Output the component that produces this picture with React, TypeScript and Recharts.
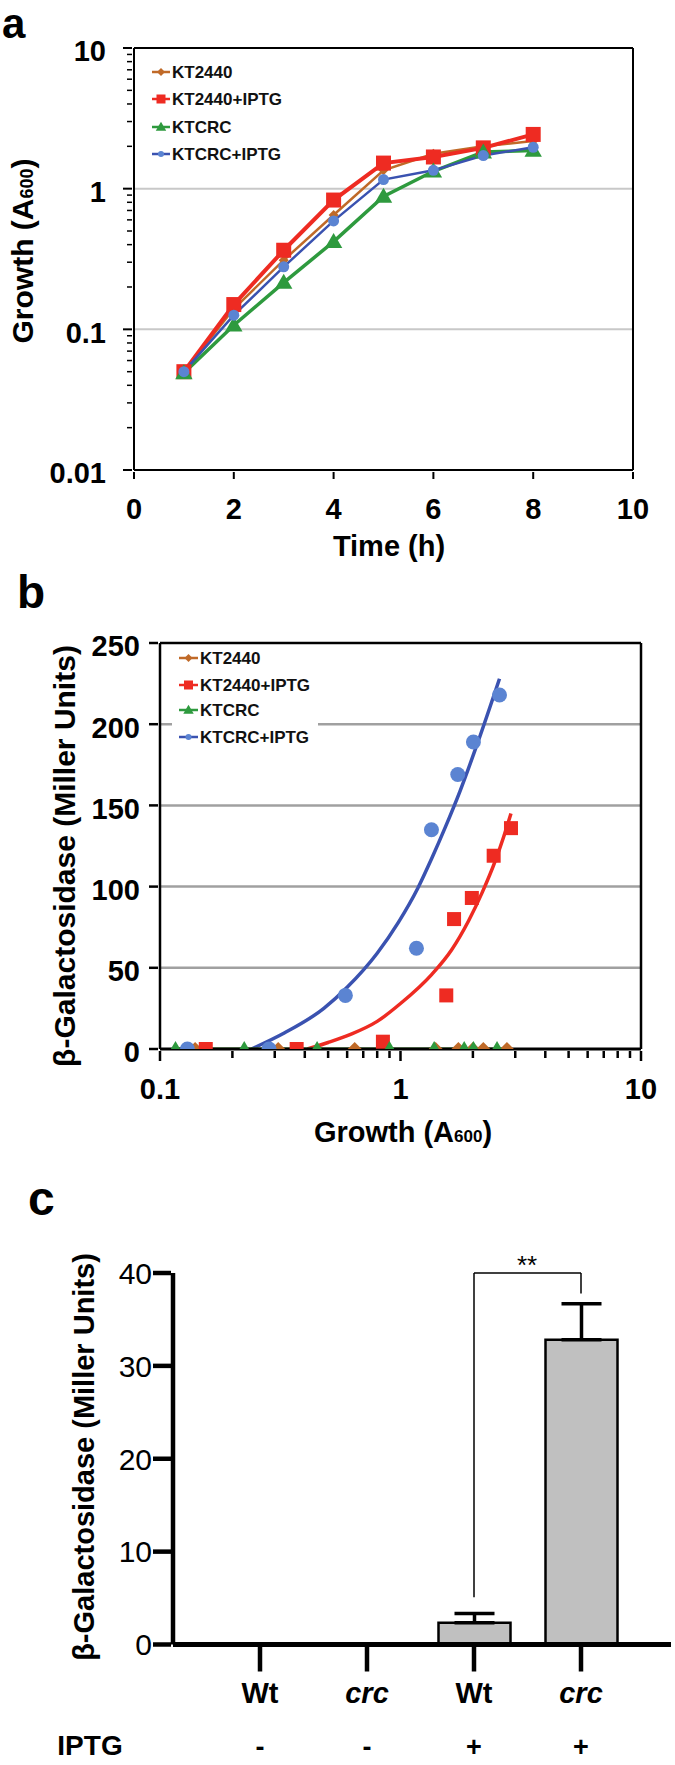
import React from 'react';
import {
  ComposedChart,
  BarChart,
  Line,
  Scatter,
  Bar,
  XAxis,
  YAxis,
  ReferenceLine,
  ErrorBar,
} from 'recharts';

const FONT = "'Liberation Sans', Arial, Helvetica, sans-serif";
const W = 675;
const H = 1765;

// ---------- colours ----------
const C_BROWN = '#C06A28';
const C_RED = '#EE2B22';
const C_GREEN = '#2E9A3E';
const C_BLUE_LINE = '#3A52B0';
const C_BLUE_DOT = '#5B84D2';

// ---------- panel a : growth curves ----------
const TIME_H = [1, 2, 3, 4, 5, 6, 7, 8];
const A_KT2440 = [0.05, 0.14, 0.31, 0.65, 1.35, 1.77, 2.0, 2.18];
const A_KT2440_IPTG = [0.05, 0.15, 0.365, 0.83, 1.52, 1.68, 1.95, 2.43];
const A_KTCRC = [0.049, 0.107, 0.215, 0.42, 0.88, 1.33, 1.82, 1.87];
const A_KTCRC_IPTG = [0.05, 0.126, 0.278, 0.59, 1.16, 1.35, 1.72, 1.97];
const A_X_TICKS = [0, 2, 4, 6, 8, 10];
const A_Y_MAJOR = [0.01, 0.1, 1, 10];
const A_Y_MAJOR_LABELS = ['0.01', '0.1', '1', '10'];
const A_Y_MINOR = [
  0.02, 0.03, 0.04, 0.05, 0.06, 0.07, 0.08, 0.09,
  0.2, 0.3, 0.4, 0.5, 0.6, 0.7, 0.8, 0.9,
  2, 3, 4, 5, 6, 7, 8, 9,
];
const A_GRID = [0.1, 1];

// ---------- panel b : beta-gal vs growth ----------
const B_KT2440_X = [0.14, 0.31, 0.645, 1.4, 1.74, 2.0, 2.21, 2.77];
const B_KT2440_Y = [0, 0, 0, 0, 0, 0, 0, 0];
const B_KT2440_IPTG_X = [0.155, 0.37, 0.845, 1.55, 1.67, 1.98, 2.44, 2.88];
const B_KT2440_IPTG_Y = [0, 0, 4.5, 33, 80, 93, 119, 136];
const B_KTCRC_X = [0.116, 0.224, 0.45, 0.9, 1.38, 1.84, 2.01, 2.52];
const B_KTCRC_Y = [0, 0, 0, 0, 0, 0, 0, 0];
const B_KTCRC_IPTG_X = [0.13, 0.284, 0.59, 1.165, 1.345, 1.73, 2.01, 2.58];
const B_KTCRC_IPTG_Y = [0, 0, 33, 62, 135, 169, 189, 218];
const B_FIT_BLUE_X = [0.24, 0.33, 0.48, 0.6, 0.8, 0.98, 1.18, 1.345, 1.53, 1.77, 2.11, 2.58];
const B_FIT_BLUE_Y = [0, 10, 25, 38, 59, 78, 99, 117, 136, 159, 190, 228];
const B_FIT_RED_X = [0.41, 0.5, 0.62, 0.8, 1.0, 1.35, 1.63, 1.92, 2.18, 2.48, 2.69, 2.88];
const B_FIT_RED_Y = [0, 4, 9, 17, 28, 46, 61, 79, 96, 116, 131, 145];
const B_X_MAJOR = [0.1, 1, 10];
const B_X_MAJOR_LABELS = ['0.1', '1', '10'];
const B_X_MINOR = [0.2, 0.3, 0.4, 0.5, 0.6, 0.7, 0.8, 0.9, 2, 3, 4, 5, 6, 7, 8, 9];
const B_Y_TICKS = [0, 50, 100, 150, 200, 250];
const B_GRID = [50, 100, 150, 200];

// ---------- panel c : bar chart ----------
const C_KEYS = ['Wt-', 'crc-', 'Wt+', 'crc+'];
const C_STRAIN = ['Wt', 'crc', 'Wt', 'crc'];
const C_STRAIN_ITALIC = [false, true, false, true];
const C_IPTG = ['-', '-', '+', '+'];
const C_VALUE = [0, 0, 2.35, 32.8];
const C_ERR_UP = [0, 0, 0.98, 3.9];
const C_Y_TICKS = [0, 10, 20, 30, 40];
const C_BRACKET_TOP = 40;
const C_BRACKET_LEFT_END = 5.1;
const C_BRACKET_RIGHT_END = 37.8;

const LEGEND_NAMES = ['KT2440', 'KT2440+IPTG', 'KTCRC', 'KTCRC+IPTG'];

// ---------- data tables ----------
const aData = TIME_H.map((t, i) => ({
  t,
  kt: A_KT2440[i],
  ktI: A_KT2440_IPTG[i],
  crc: A_KTCRC[i],
  crcI: A_KTCRC_IPTG[i],
}));
const pairs = (xs: number[], ys: number[]) => xs.map((x, i) => ({ x, y: ys[i] }));
const bKt = pairs(B_KT2440_X, B_KT2440_Y);
const bKtI = pairs(B_KT2440_IPTG_X, B_KT2440_IPTG_Y);
const bCrc = pairs(B_KTCRC_X, B_KTCRC_Y);
const bCrcI = pairs(B_KTCRC_IPTG_X, B_KTCRC_IPTG_Y);
const bFitBlue = pairs(B_FIT_BLUE_X, B_FIT_BLUE_Y);
const bFitRed = pairs(B_FIT_RED_X, B_FIT_RED_Y);
const cData = C_KEYS.map((key, i) => ({
  key,
  value: C_VALUE[i],
  err: [0, C_ERR_UP[i]],
}));

// ---------- marker shapes ----------
const squareEl = (k: any, cx: number, cy: number, s: number, fill: string) => (
  <rect key={k} x={cx - s / 2} y={cy - s / 2} width={s} height={s} fill={fill} />
);
const triEl = (k: any, cx: number, cy: number, s: number, fill: string) => (
  <path
    key={k}
    d={`M${cx},${cy - s * 0.58}L${cx + s * 0.58},${cy + s * 0.42}L${cx - s * 0.58},${cy + s * 0.42}Z`}
    fill={fill}
  />
);
const diaEl = (k: any, cx: number, cy: number, s: number, fill: string) => (
  <path
    key={k}
    d={`M${cx},${cy - s / 2}L${cx + s / 2},${cy}L${cx},${cy + s / 2}L${cx - s / 2},${cy}Z`}
    fill={fill}
  />
);
const circEl = (k: any, cx: number, cy: number, s: number, fill: string) => (
  <circle key={k} cx={cx} cy={cy} r={s / 2} fill={fill} />
);

const dotFn = (maker: any, s: number, fill: string) => (p: any) => {
  if (p.cx == null || p.cy == null) return <g key={`e${p.index}`} />;
  return maker(`d${p.index}`, p.cx, p.cy, s, fill);
};
const shapeFn = (maker: any, s: number, fill: string) => (p: any) => {
  if (p.cx == null || p.cy == null) return <g />;
  return maker(undefined, p.cx, p.cy, s, fill);
};

const boldText = { fontFamily: FONT, fontWeight: 'bold' as const, fill: '#000' };

// ---------- ticks ----------
const aYTick = (p: any) => {
  const { x, y, payload } = p;
  const mi = A_Y_MAJOR.indexOf(payload.value);
  const major = mi >= 0;
  return (
    <g>
      <line x1={x - (major ? 9 : 5)} x2={x} y1={y} y2={y} stroke="#000" strokeWidth={major ? 2 : 1.5} />
      {major && (
        <text x={x - 26} y={y + 3} dy="0.36em" textAnchor="end" fontSize={29} {...boldText}>
          {A_Y_MAJOR_LABELS[mi]}
        </text>
      )}
    </g>
  );
};
const aXTick = (p: any) => {
  const { x, y, payload } = p;
  return (
    <g>
      <line x1={x} x2={x} y1={y} y2={y + 7} stroke="#000" strokeWidth={2} />
      <text x={x} y={y + 37} dy="0.36em" textAnchor="middle" fontSize={29} {...boldText}>
        {payload.value}
      </text>
    </g>
  );
};
const bXTick = (p: any) => {
  const { x, y, payload } = p;
  const mi = B_X_MAJOR.indexOf(payload.value);
  const major = mi >= 0;
  return (
    <g>
      <line x1={x} x2={x} y1={y} y2={y + (major ? 10 : 7)} stroke="#000" strokeWidth={2.5} />
      {major && (
        <text x={x} y={y + 38} dy="0.36em" textAnchor="middle" fontSize={29} {...boldText}>
          {B_X_MAJOR_LABELS[mi]}
        </text>
      )}
    </g>
  );
};
const bYTick = (p: any) => {
  const { x, y, payload } = p;
  return (
    <g>
      <line x1={x - 9} x2={x} y1={y} y2={y} stroke="#000" strokeWidth={2.5} />
      <text x={x - 18} y={y + 3} dy="0.36em" textAnchor="end" fontSize={29} {...boldText}>
        {payload.value}
      </text>
    </g>
  );
};
const cYTick = (p: any) => {
  const { x, y, payload } = p;
  return (
    <g>
      <line x1={x - 18} x2={x} y1={y} y2={y} stroke="#000" strokeWidth={4.5} />
      <text x={x - 19} y={y} dy="0.36em" textAnchor="end" fontSize={30} fontFamily={FONT} fill="#000">
        {payload.value}
      </text>
    </g>
  );
};
const cXTick = (p: any) => {
  const { x, y, payload } = p;
  const i = C_KEYS.indexOf(payload.value);
  return (
    <g>
      <line x1={x} x2={x} y1={y} y2={y + 25} stroke="#000" strokeWidth={4.5} />
      <text
        x={x}
        y={y + 46}
        dy="0.36em"
        textAnchor="middle"
        fontSize={29}
        fontStyle={C_STRAIN_ITALIC[i] ? 'italic' : 'normal'}
        {...boldText}
      >
        {C_STRAIN[i]}
      </text>
      <text x={x} y={y + 100} dy="0.36em" textAnchor="middle" fontSize={27} {...boldText}>
        {C_IPTG[i]}
      </text>
    </g>
  );
};

// ---------- panels ----------
function PanelA() {
  return (
    <ComposedChart width={675} height={560} data={aData} margin={{ top: 48, right: 42, bottom: 30, left: 0 }}>
      {A_GRID.map((g) => (
        <ReferenceLine key={`ga${g}`} y={g} stroke="#c8c8c8" strokeWidth={2} />
      ))}
      <XAxis
        dataKey="t"
        type="number"
        domain={[0, 10]}
        ticks={A_X_TICKS}
        interval={0}
        height={60}
        tickSize={0}
        tickLine={false}
        tick={aXTick}
        axisLine={{ stroke: '#000', strokeWidth: 2 }}
        allowDataOverflow
      />
      <YAxis
        type="number"
        scale="log"
        domain={[0.01, 10]}
        ticks={[...A_Y_MAJOR, ...A_Y_MINOR]}
        interval={0}
        width={134}
        tickSize={0}
        tickLine={false}
        tick={aYTick}
        axisLine={{ stroke: '#000', strokeWidth: 2 }}
        allowDataOverflow
      />
      <ReferenceLine y={10} stroke="#000" strokeWidth={2} />
      <ReferenceLine x={10} stroke="#000" strokeWidth={2} />
      <Line dataKey="kt" stroke={C_BROWN} strokeWidth={2.5} dot={dotFn(diaEl, 10, C_BROWN)} isAnimationActive={false} />
      <Line dataKey="ktI" stroke={C_RED} strokeWidth={4} dot={dotFn(squareEl, 15, C_RED)} isAnimationActive={false} />
      <Line dataKey="crc" stroke={C_GREEN} strokeWidth={3.5} dot={dotFn(triEl, 15, C_GREEN)} isAnimationActive={false} />
      <Line dataKey="crcI" stroke={C_BLUE_LINE} strokeWidth={2.5} dot={dotFn(circEl, 11, C_BLUE_DOT)} isAnimationActive={false} />
    </ComposedChart>
  );
}

function PanelB() {
  return (
    <ComposedChart width={675} height={560} margin={{ top: 83, right: 34, bottom: 21, left: 0 }}>
      {B_GRID.map((g) => (
        <ReferenceLine key={`gb${g}`} y={g} stroke="#a0a0a0" strokeWidth={2.5} />
      ))}
      <XAxis
        dataKey="x"
        type="number"
        scale="log"
        domain={[0.1, 10]}
        ticks={[...B_X_MAJOR, ...B_X_MINOR]}
        interval={0}
        height={50}
        tickSize={0}
        tickLine={false}
        tick={bXTick}
        axisLine={{ stroke: '#000', strokeWidth: 3 }}
        allowDataOverflow
      />
      <YAxis
        dataKey="y"
        type="number"
        domain={[0, 250]}
        ticks={B_Y_TICKS}
        interval={0}
        width={160}
        tickSize={0}
        tickLine={false}
        tick={bYTick}
        axisLine={{ stroke: '#000', strokeWidth: 2.5 }}
        allowDataOverflow
      />
      <ReferenceLine y={250} stroke="#000" strokeWidth={2.5} />
      <ReferenceLine x={10} stroke="#000" strokeWidth={2.5} />
      <Line data={bFitBlue} dataKey="y" type="monotone" stroke={C_BLUE_LINE} strokeWidth={3.5} dot={false} isAnimationActive={false} />
      <Line data={bFitRed} dataKey="y" type="monotone" stroke={C_RED} strokeWidth={3.5} dot={false} isAnimationActive={false} />
      <Line data={bKt} dataKey="y" stroke={C_BROWN} strokeWidth={2.5} dot={dotFn(diaEl, 14, C_BROWN)} isAnimationActive={false} />
      <Line data={bCrc} dataKey="y" stroke={C_GREEN} strokeWidth={3} dot={false} isAnimationActive={false} />
      <Scatter data={bCrcI} dataKey="y" shape={shapeFn(circEl, 15, C_BLUE_DOT)} isAnimationActive={false} />
      <Scatter data={bKtI} dataKey="y" shape={shapeFn(squareEl, 14, C_RED)} isAnimationActive={false} />
      <Scatter data={bCrc} dataKey="y" shape={shapeFn(triEl, 14, C_GREEN)} isAnimationActive={false} />
    </ComposedChart>
  );
}

function PanelC() {
  return (
    <BarChart width={675} height={645} data={cData} margin={{ top: 153, right: 4, bottom: 0.5, left: 0 }}>
      <XAxis
        dataKey="key"
        type="category"
        height={120}
        padding={{ left: 33.5, right: 36.5 }}
        interval={0}
        tickSize={0}
        tickLine={false}
        tick={cXTick}
        axisLine={{ stroke: '#000', strokeWidth: 5 }}
      />
      <YAxis
        type="number"
        domain={[0, 40]}
        ticks={C_Y_TICKS}
        interval={0}
        width={173}
        tickSize={0}
        tickLine={false}
        tick={cYTick}
        axisLine={{ stroke: '#000', strokeWidth: 4.5 }}
        allowDataOverflow
      />
      <Bar dataKey="value" fill="#C0C0C0" stroke="#000" strokeWidth={2.5} barSize={72} isAnimationActive={false}>
        <ErrorBar dataKey="err" direction="y" width={20} stroke="#000" strokeWidth={3.5} />
      </Bar>
      <ReferenceLine
        segment={[{ x: 'Wt+', y: C_BRACKET_LEFT_END }, { x: 'Wt+', y: C_BRACKET_TOP }]}
        stroke="#000"
        strokeWidth={1.5}
        ifOverflow="visible"
      />
      <ReferenceLine
        segment={[{ x: 'Wt+', y: C_BRACKET_TOP }, { x: 'crc+', y: C_BRACKET_TOP }]}
        stroke="#000"
        strokeWidth={1.5}
        ifOverflow="visible"
      />
      <ReferenceLine
        segment={[{ x: 'crc+', y: C_BRACKET_TOP }, { x: 'crc+', y: C_BRACKET_RIGHT_END }]}
        stroke="#000"
        strokeWidth={1.5}
        ifOverflow="visible"
      />
    </BarChart>
  );
}

// ---------- legend ----------
const legendMarkers = [
  (cx: number, cy: number) => diaEl('m0', cx, cy, 8, C_BROWN),
  (cx: number, cy: number) => squareEl('m1', cx, cy, 9, C_RED),
  (cx: number, cy: number) => triEl('m2', cx, cy, 9, C_GREEN),
  (cx: number, cy: number) => circEl('m3', cx, cy, 6, C_BLUE_DOT),
];
const legendColors = [C_BROWN, C_RED, C_GREEN, C_BLUE_LINE];

function Legend({ x0, x1, xt, ys }: { x0: number; x1: number; xt: number; ys: number[] }) {
  return (
    <g>
      {LEGEND_NAMES.map((name, i) => (
        <g key={name}>
          <line x1={x0} x2={x1} y1={ys[i]} y2={ys[i]} stroke={legendColors[i]} strokeWidth={2.5} />
          {legendMarkers[i]((x0 + x1) / 2, ys[i])}
          <text x={xt} y={ys[i]} dy="0.36em" fontSize={17} {...boldText} fill="#111">
            {name}
          </text>
        </g>
      ))}
    </g>
  );
}

export default function App() {
  return (
    <div
      style={{
        position: 'absolute',
        left: 0,
        top: 0,
        width: W,
        height: H,
        background: '#fff',
        fontFamily: FONT,
        overflow: 'hidden',
      }}
    >
      <div style={{ position: 'absolute', left: 0, top: 0 }}>
        <PanelA />
      </div>
      <div style={{ position: 'absolute', left: 0, top: 560 }}>
        <PanelB />
      </div>
      <div style={{ position: 'absolute', left: 0, top: 1120 }}>
        <PanelC />
      </div>
      <svg
        width={W}
        height={H}
        style={{ position: 'absolute', left: 0, top: 0, pointerEvents: 'none' }}
      >
        {/* panel letters */}
        <text x={2} y={38} fontSize={42} {...boldText}>a</text>
        <text x={17} y={608} fontSize={46} {...boldText}>b</text>
        <text x={28} y={1215} fontSize={48} {...boldText}>c</text>

        {/* panel a titles */}
        <text x={389} y={546} dy="0.36em" textAnchor="middle" fontSize={29} {...boldText}>
          Time (h)
        </text>
        <text
          x={22}
          y={251}
          dy="0.36em"
          textAnchor="middle"
          fontSize={30}
          transform="rotate(-90 22 251)"
          {...boldText}
        >
          Growth (A<tspan fontSize={18}>600</tspan>)
        </text>
        <Legend x0={152} x1={170} xt={172} ys={[72, 99, 127, 154]} />

        {/* panel b titles */}
        <rect x={172} y={646} width={146} height={104} fill="#fff" />
        <Legend x0={179} x1={198} xt={200} ys={[658, 685, 710, 737]} />
        <text x={403} y={1132} dy="0.36em" textAnchor="middle" fontSize={29} {...boldText}>
          Growth (A<tspan fontSize={17}>600</tspan>)
        </text>
        <text
          x={64}
          y={856}
          dy="0.36em"
          textAnchor="middle"
          fontSize={30}
          transform="rotate(-90 64 856)"
          {...boldText}
        >
          β-Galactosidase (Miller Units)
        </text>

        {/* panel c titles */}
        <text
          x={84}
          y={1457}
          dy="0.36em"
          textAnchor="middle"
          fontSize={29}
          transform="rotate(-90 84 1457)"
          {...boldText}
        >
          β-Galactosidase (Miller Units)
        </text>
        <text x={527} y={1274} textAnchor="middle" fontSize={26} fontFamily={FONT} fill="#000">
          **
        </text>
        <text x={90} y={1744.5} dy="0.36em" textAnchor="middle" fontSize={28} {...boldText}>
          IPTG
        </text>
      </svg>
    </div>
  );
}
